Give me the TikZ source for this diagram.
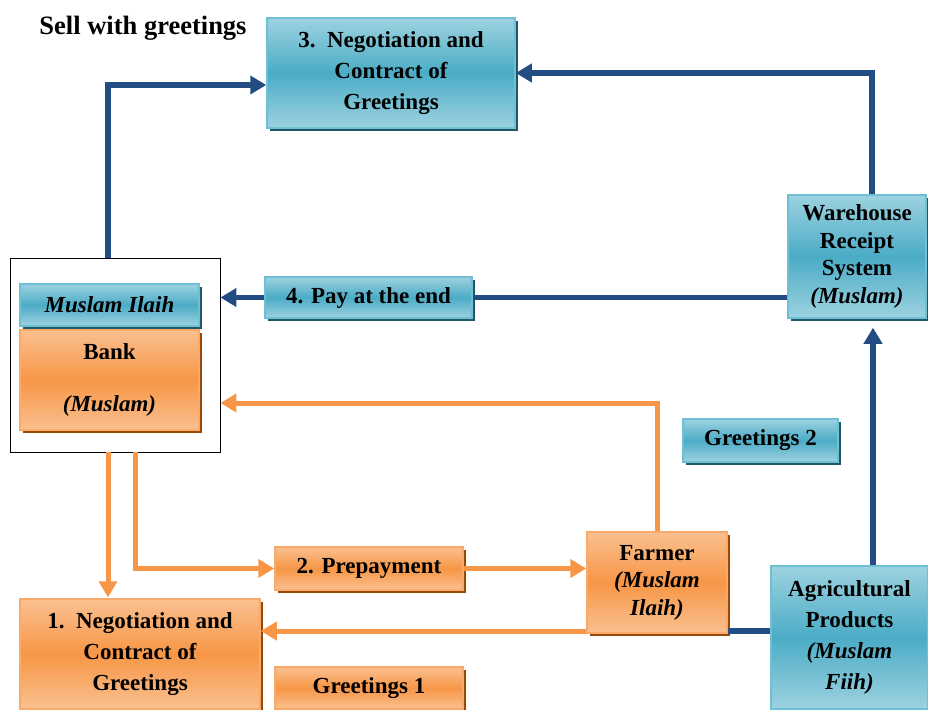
\documentclass[tikz,border=0pt]{standalone}
\usepackage{fontspec}
\setmainfont{Liberation Serif}
\usetikzlibrary{arrows.meta,shadows}
\definecolor{bluelt}{HTML}{9DD2E0}
\definecolor{bluemid}{HTML}{4BACC6}
\definecolor{blueshd}{HTML}{215868}
\definecolor{blueedge}{HTML}{6FC0D4}
\definecolor{orlt}{HTML}{FAC090}
\definecolor{ormid}{HTML}{F79646}
\definecolor{orshd}{HTML}{984807}
\definecolor{oredge}{HTML}{F9AA6A}
\definecolor{navy}{HTML}{214D82}
\definecolor{orline}{HTML}{F79646}
\tikzset{
  base/.style={font=\fontsize{23}{31}\selectfont\bfseries, align=center, inner sep=0pt, line width=1.5pt},
  bluebox/.style={base, draw=blueedge, top color=bluelt, bottom color=bluelt, middle color=bluemid,
    drop shadow={shadow xshift=3pt, shadow yshift=-3pt, fill=blueshd, opacity=1}},
  orbox/.style={base, draw=oredge, top color=orlt, bottom color=orlt, middle color=ormid,
    drop shadow={shadow xshift=3pt, shadow yshift=-3pt, fill=orshd, opacity=1}},
  navyline/.style={draw=navy, line width=5.5pt},
  navyarrow/.style={navyline, -{Triangle[length=16pt,width=18pt]}},
  orlinestyle/.style={draw=orline, line width=5pt},
  orarrow/.style={orlinestyle, -{Triangle[length=16pt,width=18pt]}},
}
\begin{document}
\begin{tikzpicture}[x=1pt,y=-1pt]
\useasboundingbox (0,0) rectangle (928,709);
% title
\node[font=\fontsize{26.5}{30}\selectfont\bfseries, inner sep=0pt] (title) at (143,28) {Sell with greetings};
% boxes
\node[bluebox, minimum width=248pt, minimum height=110pt] (box3) at (391,73)
  {3.\ \ Negotiation and\\Contract of\\Greetings};
\node[bluebox, minimum width=138pt, minimum height=123pt, font=\fontsize{23}{27.5}\selectfont\bfseries] (wh) at (857,256.5)
  {Warehouse\\Receipt\\System\\\textit{(Muslam)}};
\node[draw=black, line width=0.8pt, minimum width=210pt, minimum height=194pt, inner sep=0pt] (bankouter) at (115,355) {};
\node[bluebox, minimum width=179pt, minimum height=42pt] (ilaih) at (109.5,305) {\textit{Muslam Ilaih}};
\node[orbox, minimum width=179pt, minimum height=100pt] (bank) at (109.5,380) {Bank\\[21pt]\textit{(Muslam)}};
\node[bluebox, minimum width=207pt, minimum height=41pt] (pay) at (368.5,297.5) {4. Pay at the end};
\node[bluebox, minimum width=155pt, minimum height=43pt] (gr2) at (760.5,440.5) {Greetings 2};
\node[orbox, minimum width=140pt, minimum height=101pt, font=\fontsize{23}{27.5}\selectfont\bfseries] (farmer) at (657,582.5)
  {Farmer\\\textit{(Muslam}\\\textit{Ilaih)}};
\node[bluebox, minimum width=157pt, minimum height=143pt] (agri) at (849.5,637.5)
  {Agricultural\\Products\\\textit{(Muslam}\\\textit{Fiih)}};
\node[orbox, minimum width=188pt, minimum height=43pt] (prepay) at (369,568.5) {2. Prepayment};
\node[orbox, minimum width=240pt, minimum height=110pt] (box1) at (140,654)
  {1.\ \ Negotiation and\\Contract of\\Greetings};
\node[orbox, minimum width=188pt, minimum height=42pt] (gr1) at (369,688) {Greetings 1};
% connectors
\draw[navyarrow] ([xshift=-7pt]bankouter.north) |- ([yshift=-12pt]box3.west);
\draw[navyarrow] ([xshift=15pt]wh.north) |- (box3.east);
\draw[navyline] (pay.east -| wh.west) -- (pay.east);
\draw[navyarrow] (pay.west) -- (pay.west -| bankouter.east);
\draw[navyarrow] ([xshift=23.5pt]agri.north) -- ([xshift=23.5pt,yshift=-9pt]agri.north |- wh.south);
\draw[navyline] (farmer.east |- 0,631) -- (agri.west |- 0,631);
\draw[orarrow] (farmer.north) |- (bankouter.east |- 0,403);
\draw[orarrow] ([xshift=-7pt]bankouter.south) -- ([xshift=-7pt,yshift=1pt]bankouter.south |- box1.north);
\draw[orarrow] ([xshift=20pt]bankouter.south) |- (prepay.west);
\draw[orarrow] (prepay.east) -- (prepay.east -| farmer.west);
\draw[orarrow] (farmer.west |- 0,631) -- (box1.east |- 0,631);
\end{tikzpicture}
\end{document}
